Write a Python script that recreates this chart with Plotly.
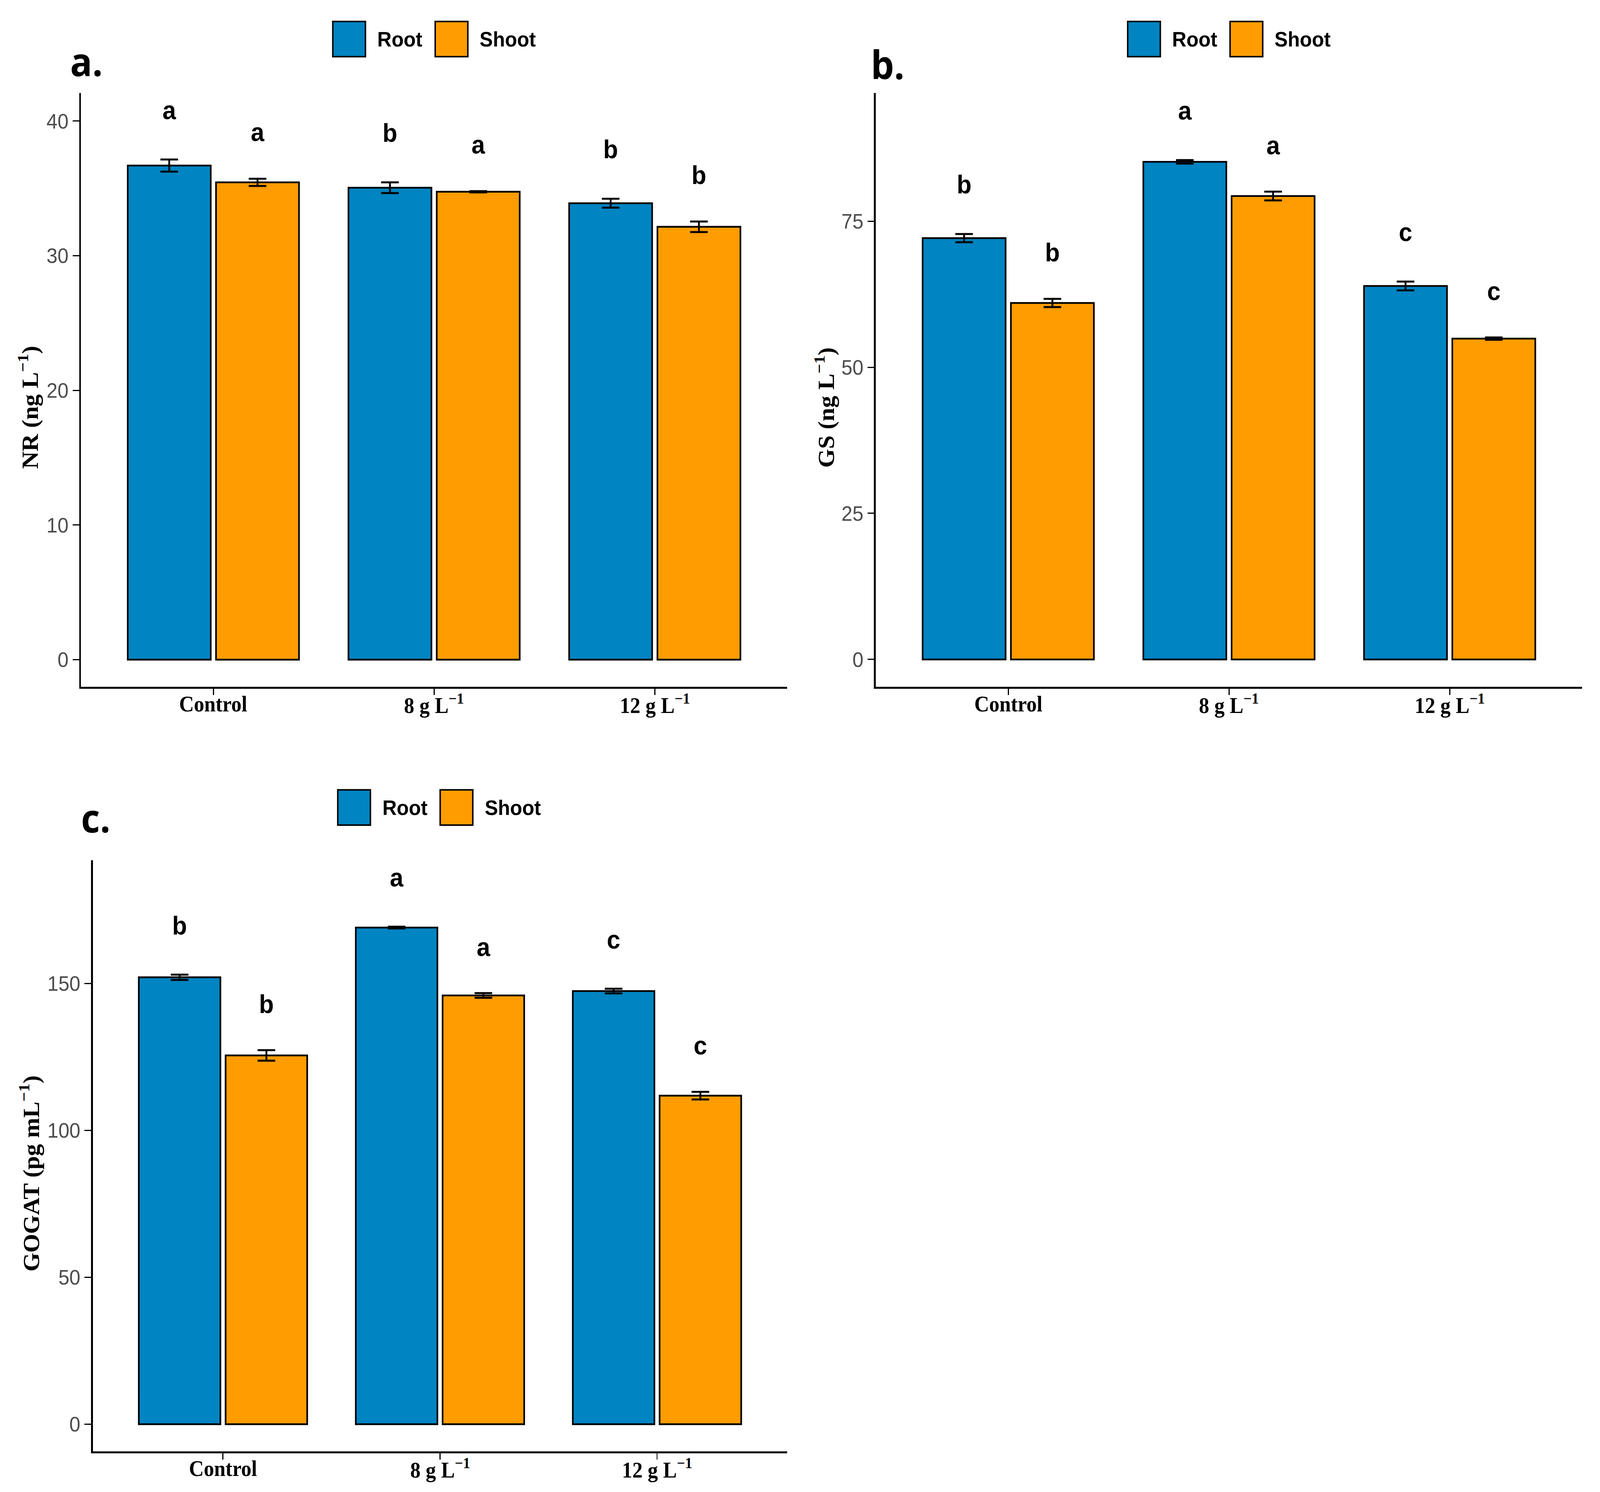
import plotly.graph_objects as go

# treatment levels (x categories)
categories = ["Control", "8 g L<sup>−1</sup>", "12 g L<sup>−1</sup>"]

# a. NR (ng L-1)
nr_root = [36.7, 35.05, 33.9]
nr_root_se = [0.45, 0.4, 0.33]
nr_shoot = [35.45, 34.75, 32.15]
nr_shoot_se = [0.27, 0.05, 0.39]
nr_root_letters = ["a", "b", "b"]
nr_shoot_letters = ["a", "a", "b"]

# b. GS (ng L-1)
gs_root = [72.1, 85.15, 63.9]
gs_root_se = [0.7, 0.3, 0.75]
gs_shoot = [61.0, 79.3, 54.9]
gs_shoot_se = [0.7, 0.75, 0.2]
gs_root_letters = ["b", "a", "c"]
gs_shoot_letters = ["b", "a", "c"]

# c. GOGAT (pg mL-1)
gogat_root = [152.1, 169.0, 147.4]
gogat_root_se = [0.9, 0.3, 0.8]
gogat_shoot = [125.5, 145.9, 111.8]
gogat_shoot_se = [1.8, 0.8, 1.3]
gogat_root_letters = ["b", "a", "c"]
gogat_shoot_letters = ["b", "a", "c"]

nr_ticks = [0, 10, 20, 30, 40]
gs_ticks = [0, 25, 50, 75]
gogat_ticks = [0, 50, 100, 150]

ROOT_COLOR = "#0084C2"
SHOOT_COLOR = "#FF9C00"
BARGAP = 0.2
DODGE = (1 - BARGAP) / 4

W, H = 4360, 3819

panels = [
    dict(ax="", root=nr_root, root_se=nr_root_se, shoot=nr_shoot, shoot_se=nr_shoot_se,
         rl=nr_root_letters, sl=nr_shoot_letters, ticks=nr_ticks, yrange=[-2.0, 42.1],
         xdom=[0.0506, 0.492], ydom=[0.5398, 0.9378],
         title="NR (ng L<sup>−1</sup>)", title_x=0.0177, tag="a.", tag_xy=(0.0433, 0.9592),
         leg_x=0.2080, leg_y=0.9738),
    dict(ax="2", root=gs_root, root_se=gs_root_se, shoot=gs_shoot, shoot_se=gs_shoot_se,
         rl=gs_root_letters, sl=gs_shoot_letters, ticks=gs_ticks, yrange=[-4.65, 96.96],
         xdom=[0.5474, 0.9888], ydom=[0.5398, 0.9378],
         title="GS (ng L<sup>−1</sup>)", title_x=0.5154, tag="b.", tag_xy=(0.5438, 0.9571),
         leg_x=0.7048, leg_y=0.9738),
    dict(ax="3", root=gogat_root, root_se=gogat_root_se, shoot=gogat_shoot, shoot_se=gogat_shoot_se,
         rl=gogat_root_letters, sl=gogat_shoot_letters, ticks=gogat_ticks, yrange=[-9.2, 191.9],
         xdom=[0.058, 0.492], ydom=[0.0273, 0.4234],
         title="GOGAT (pg mL<sup>−1</sup>)", title_x=0.0186, tag="c.", tag_xy=(0.0502, 0.4522),
         leg_x=0.2111, leg_y=0.4588),
]

fig = go.Figure()
annotations = []
shapes = []
xpos = list(range(len(categories)))

for p in panels:
    xa, ya = "x" + p["ax"], "y" + p["ax"]
    span = p["yrange"][1] - p["yrange"][0]
    for name, vals, se, letters, color, side, lift in [
            ("Root", p["root"], p["root_se"], p["rl"], ROOT_COLOR, -1, 0.079),
            ("Shoot", p["shoot"], p["shoot_se"], p["sl"], SHOOT_COLOR, 1, 0.074)]:
        fig.add_trace(go.Bar(
            x=xpos, y=vals, name=name, xaxis=xa, yaxis=ya,
            marker=dict(color=color, line=dict(color="black", width=4.5)),
            error_y=dict(type="data", array=se, color="black", thickness=5, width=24),
            textposition="none", showlegend=False,
        ))
        # significance letters above each bar
        fig.add_trace(go.Scatter(
            x=[i + side * DODGE for i in xpos],
            y=[v + e + lift * span for v, e in zip(vals, se)],
            text=letters, mode="text", textposition="middle center",
            textfont=dict(family="Liberation Sans", size=66, color="black", weight="bold"),
            xaxis=xa, yaxis=ya, showlegend=False, hoverinfo="skip",
        ))

    # x tick labels (placed a bit closer to the axis than plotly's default)
    for i, lab in enumerate(categories):
        annotations.append(dict(
            x=i, y=0, xref=xa, yref=ya + " domain", yshift=-44, text=lab,
            showarrow=False, xanchor="center", yanchor="middle",
            font=dict(family="Liberation Serif", size=56, color="black", weight="bold"),
        ))

    # y axis title
    annotations.append(dict(
        x=p["title_x"], y=0.47, xref="paper", yref=ya + " domain", text=p["title"],
        textangle=-90, showarrow=False, xanchor="center", yanchor="middle",
        font=dict(family="Liberation Serif", size=62, color="black", weight="bold"),
    ))

    # panel tag
    annotations.append(dict(
        x=p["tag_xy"][0], y=p["tag_xy"][1], xref="paper", yref="paper", text=p["tag"],
        showarrow=False, xanchor="left", yanchor="middle",
        font=dict(family="Open Sans", size=100, color="black", weight="bold"),
    ))

    # legend drawn as boxes + labels
    bw, bh = 0.0204, 0.0236
    for k, (name, color) in enumerate([("Root", ROOT_COLOR), ("Shoot", SHOOT_COLOR)]):
        x0 = p["leg_x"] + k * 0.064
        shapes.append(dict(type="rect", xref="paper", yref="paper",
                           x0=x0, x1=x0 + bw, y0=p["leg_y"] - bh / 2, y1=p["leg_y"] + bh / 2,
                           fillcolor=color, line=dict(color="black", width=4)))
        annotations.append(dict(
            x=x0 + bw + 0.007, y=p["leg_y"], xref="paper", yref="paper", text=name,
            showarrow=False, xanchor="left", yanchor="middle",
            font=dict(family="Liberation Sans", size=54, color="black", weight="bold"),
        ))

    fig.layout["xaxis" + p["ax"]] = dict(
        domain=p["xdom"], anchor=ya, range=[-0.6, 2.6],
        tickvals=xpos, showticklabels=False,
        showline=True, linecolor="black", linewidth=5, showgrid=False, zeroline=False,
        ticks="outside", ticklen=16, tickwidth=3, tickcolor="black",
    )
    fig.layout["yaxis" + p["ax"]] = dict(
        domain=p["ydom"], anchor=xa, range=p["yrange"], tickvals=p["ticks"],
        showline=True, linecolor="black", linewidth=5, showgrid=False, zeroline=False,
        ticks="outside", ticklen=18, tickwidth=3, tickcolor="black",
        tickfont=dict(family="Liberation Sans", size=54, color="#4D4D4D"),
    )

fig.update_layout(
    width=W, height=H, barmode="group", bargap=BARGAP, bargroupgap=0.06,
    plot_bgcolor="white", paper_bgcolor="white",
    margin=dict(l=0, r=0, t=0, b=0),
    annotations=annotations, shapes=shapes, showlegend=False,
)

# stretch the fixed-size figure so it fills the viewport the page gets
fit_js = """
var gd = document.getElementById('{plot_id}');
var vw = window.innerWidth, vh = window.innerHeight;
var sx = vw / %d, sy = vh / %d;
document.documentElement.style.overflow = 'hidden';
document.body.style.margin = '0';
document.body.style.overflow = 'hidden';
document.body.style.height = vh + 'px';
var wrap = gd.parentElement;
wrap.style.width = vw + 'px';
wrap.style.height = vh + 'px';
wrap.style.overflow = 'hidden';
gd.style.transformOrigin = '0 0';
gd.style.transform = 'scale(' + sx + ',' + sy + ')';
""" % (W, H)

fig.write_html("out.html", post_script=fit_js, config={"displayModeBar": False})
